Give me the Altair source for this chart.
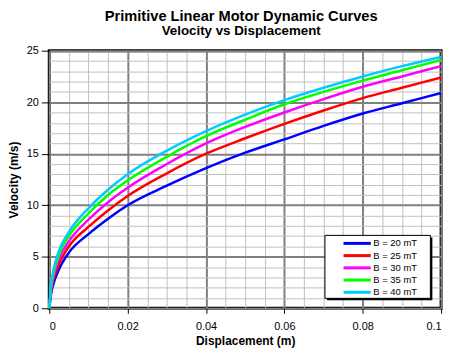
import altair as alt
import pandas as pd

# ---- data ----
displacement = [0, 0.0005, 0.001, 0.0025, 0.005, 0.01, 0.015, 0.02, 0.03, 0.04,
                0.05, 0.06, 0.07, 0.08, 0.09, 0.1]
series_names = ["B = 20 mT", "B = 25 mT", "B = 30 mT", "B = 35 mT", "B = 40 mT"]
series_colors = ["#0000FF", "#FF0000", "#FF00FF", "#00FF00", "#00CCFF"]
v_20 = [0, 1.5, 2.3, 3.8, 5.4, 7.2, 8.7, 10.0, 11.9, 13.6, 15.1, 16.4, 17.7, 18.9, 19.9, 20.9]
v_25 = [0, 1.8, 2.7, 4.3, 6.0, 7.9, 9.5, 10.9, 13.1, 15.0, 16.5, 17.9, 19.2, 20.4, 21.4, 22.4]
v_30 = [0, 2.0, 3.0, 4.8, 6.5, 8.6, 10.3, 11.7, 14.0, 16.0, 17.6, 19.0, 20.3, 21.5, 22.5, 23.5]
v_35 = [0, 2.2, 3.3, 5.2, 7.0, 9.2, 11.0, 12.4, 14.7, 16.7, 18.3, 19.8, 21.0, 22.1, 23.1, 24.1]
v_40 = [0, 2.4, 3.6, 5.6, 7.4, 9.7, 11.5, 13.0, 15.3, 17.2, 18.8, 20.2, 21.4, 22.5, 23.5, 24.4]

# axis tick / grid positions (major ones are labelled)
x_grid = [0, 0.005, 0.01, 0.015, 0.02, 0.025, 0.03, 0.035, 0.04, 0.045, 0.05,
          0.055, 0.06, 0.065, 0.07, 0.075, 0.08, 0.085, 0.09, 0.095, 0.1]
y_grid = list(range(0, 26))

rows = []
for name, vals in zip(series_names, [v_20, v_25, v_30, v_35, v_40]):
    for xv, yv in zip(displacement, vals):
        rows.append({"Displacement": xv, "Velocity": yv, "Series": name})
df = pd.DataFrame(rows)

FONT = "Liberation Sans"
X_MAJOR = "abs(datum.value*50 - round(datum.value*50)) < 1e-6"
Y_MAJOR = "abs(datum.value/5 - round(datum.value/5)) < 1e-6"

xscale = alt.Scale(domain=[0, 0.1], nice=False, zero=False)
yscale = alt.Scale(domain=[0, 25], nice=False, zero=False)

one = pd.DataFrame({"a": [0]})
shadow = alt.Chart(one).mark_rect(color="black").encode(
    x=alt.value(279.2), x2=alt.value(385.2), y=alt.value(187.7), y2=alt.value(251))
box = alt.Chart(one).mark_rect(fill="white", stroke="black", strokeWidth=1).encode(
    x=alt.value(277.2), x2=alt.value(383.2), y=alt.value(185.7), y2=alt.value(249))

lines = alt.Chart(df).mark_line(strokeWidth=2.5, interpolate="monotone").encode(
    x=alt.X("Displacement:Q", scale=xscale,
            axis=alt.Axis(values=x_grid, title="Displacement (m)",
                          labelExpr=f"{X_MAJOR} ? format(datum.value, '~g') : ''",
                          grid=True,
                          gridColor={"condition": {"test": X_MAJOR, "value": "#808080"},
                                     "value": "#c0c0c0"},
                          gridWidth={"condition": {"test": X_MAJOR, "value": 2},
                                     "value": 1},
                          tickOpacity={"condition": {"test": X_MAJOR, "value": 1},
                                       "value": 0},
                          tickSize=5, tickColor="black", labelPadding=7,
                          titlePadding=4)),
    y=alt.Y("Velocity:Q", scale=yscale,
            axis=alt.Axis(values=y_grid, title="Velocity (m/s)",
                          labelExpr=f"{Y_MAJOR} ? format(datum.value, '~g') : ''",
                          grid=True,
                          gridColor={"condition": {"test": Y_MAJOR, "value": "#808080"},
                                     "value": "#c0c0c0"},
                          gridWidth={"condition": {"test": Y_MAJOR, "value": 2},
                                     "value": 1},
                          tickOpacity={"condition": {"test": Y_MAJOR, "value": 1},
                                       "value": 0},
                          tickSize=8, tickColor="black", labelPadding=3,
                          titlePadding=6)),
    color=alt.Color("Series:N",
                    scale=alt.Scale(domain=series_names, range=series_colors),
                    legend=alt.Legend(orient="none", legendX=304.8, legendY=189,
                                      title=None, padding=0,
                                      symbolType="M-5,0H5", symbolSize=30,
                                      symbolStrokeWidth=3, symbolOffset=0,
                                      labelOffset=11.5, rowPadding=-0.7,
                                      labelFont=FONT, labelFontSize=9.5,
                                      labelColor="black")),
    detail="Series:N",
)

chart = alt.layer(shadow, box, lines).properties(
    width=394, height=259,
    padding={"left": 41.5, "top": 42, "right": 20, "bottom": 40},
    autosize=alt.AutoSizeParams(type="none"),
    background="white",
    title=alt.TitleParams(
        text="Primitive Linear Motor Dynamic Curves",
        subtitle="Velocity vs Displacement",
        font=FONT, fontSize=14.7, fontWeight="bold", color="black",
        subtitleFont=FONT, subtitleFontSize=13.4, subtitleFontWeight="bold",
        subtitleColor="black", subtitlePadding=1, anchor="middle", offset=7,
        dx=-4),
).configure_view(stroke="black", strokeWidth=3).configure_axis(
    domain=False, labelFont=FONT, labelFontSize=11, labelColor="black",
    titleFont=FONT, titleFontSize=12, titleFontWeight="bold", titleColor="black",
)

chart.save("out.html", embed_options={"renderer": "svg", "actions": False})
